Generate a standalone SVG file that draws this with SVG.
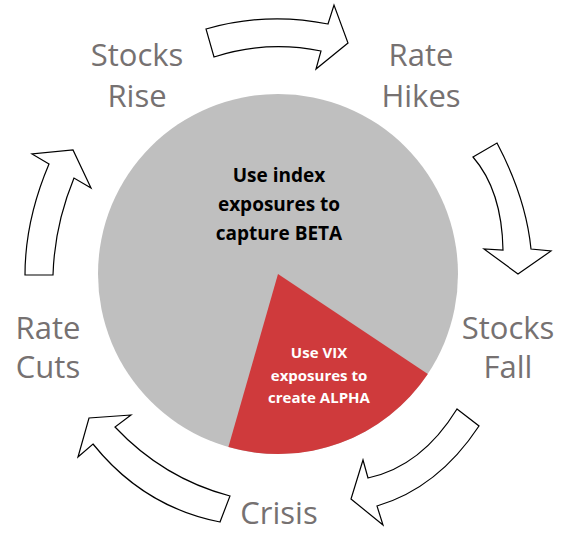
<svg xmlns="http://www.w3.org/2000/svg" width="567" height="537" viewBox="0 0 567 537">
<style>
.lbl{font-family:"Open Sans","Noto Sans",sans-serif;font-size:31px;fill:#767171;text-anchor:middle}
.arr{fill:#ffffff;stroke:#000000;stroke-width:1.2;stroke-linejoin:miter}
.inb{font-family:"Open Sans","Noto Sans",sans-serif;font-weight:700;font-size:19px;fill:#000000;text-anchor:middle}
.inw{font-family:"Open Sans","Noto Sans",sans-serif;font-weight:700;font-size:15px;fill:#ffffff;text-anchor:middle}
</style>
<rect width="567" height="537" fill="#ffffff"/>
<g id="pie">
<circle cx="278" cy="274" r="180" fill="#bfbfbf"/>
<path d="M278,274 L427.8,373.9 A180,180 0 0 1 228.4,447 Z" fill="#cf3a3c"/>
<text class="inb" x="279" y="182">Use index</text>
<text class="inb" x="279" y="211">exposures to</text>
<text class="inb" x="279" y="240">capture BETA</text>
<text class="inw" x="319" y="358">Use VIX</text>
<text class="inw" x="319" y="381">exposures to</text>
<text class="inw" x="319" y="403">create ALPHA</text>
</g>
<g id="connectors">
<path class="arr" d="M206,29 Q267,11.5 328,24 L334,5 L348,43 L316,69 L321,51 Q266.5,40 214,57 Z"/>
<path class="arr" d="M473,157 L497,143 Q526,198 531,249 L551,251 L518,274 L484,249 L503,250 Q502,190.5 473,157 Z"/>
<path class="arr" d="M457,409 L479,426 Q438,488 377,506 L383,525 L351,499 L363,460 L368,478 Q421.5,466.5 457,409 Z"/>
<path class="arr" d="M131,415 L89,418 L78,457 L93,444 Q143.5,507 220,522 L230,496 Q163.5,478.5 115,427 Z"/>
<path class="arr" d="M25,275 L53,275 Q54.5,225.5 74,178 L91,188 L73,150 L32,154 L49,164 Q25,220.5 25,275 Z"/>
</g>
<g id="stocks-rise"><text class="lbl" x="137" y="66">Stocks</text><text class="lbl" x="137" y="107">Rise</text></g>
<g id="rate-hikes"><text class="lbl" x="421" y="66">Rate</text><text class="lbl" x="421" y="107">Hikes</text></g>
<g id="stocks-fall"><text class="lbl" x="508" y="339">Stocks</text><text class="lbl" x="508" y="378">Fall</text></g>
<g id="crisis"><text class="lbl" x="279" y="524">Crisis</text></g>
<g id="rate-cuts"><text class="lbl" x="48" y="339">Rate</text><text class="lbl" x="48" y="378">Cuts</text></g>
</svg>
